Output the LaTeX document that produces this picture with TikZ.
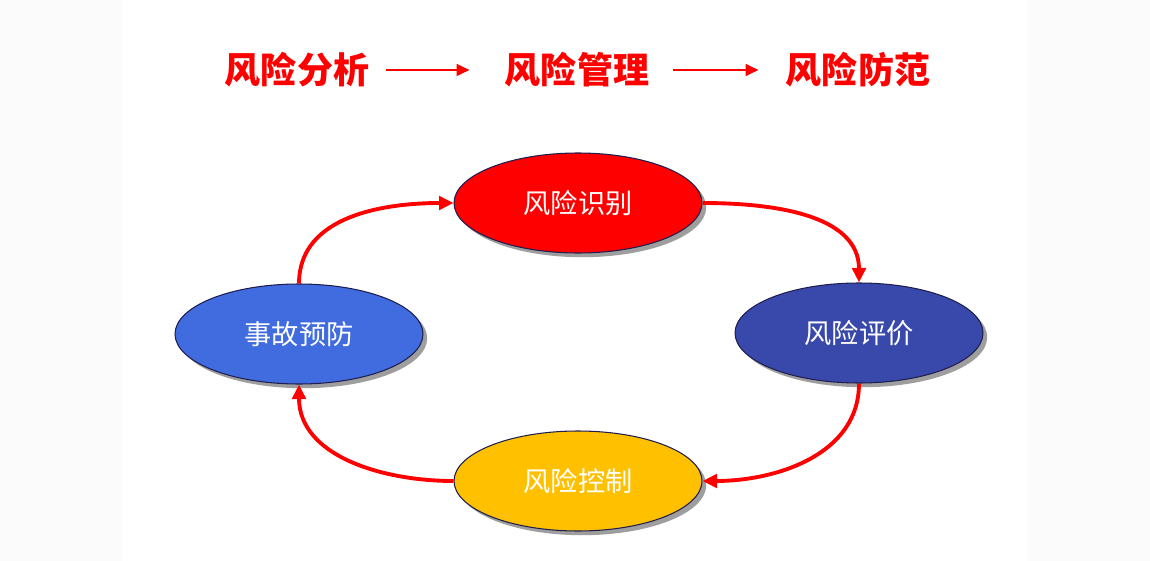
\documentclass[tikz,border=0pt]{standalone}
\usepackage{fontspec}
\newfontfamily\cjk{Noto Sans CJK SC}
\usetikzlibrary{arrows.meta,positioning,shapes.geometric,shadows}
\definecolor{riskred}{RGB}{255,0,0}
\definecolor{evalblue}{RGB}{57,73,171}
\definecolor{prevblue}{RGB}{65,108,224}
\definecolor{ctrlyellow}{RGB}{255,192,0}
\definecolor{rimnavy}{RGB}{30,30,80}
\definecolor{sidegray}{RGB}{251,251,251}

\begin{document}
\begin{tikzpicture}[
  x=0.02cm, y=-0.02cm,
  font=\cjk,
  phase/.style={ellipse, draw=rimnavy, line width=0.6pt, minimum width=4.96cm, minimum height=2.0cm,
    text=white, font=\cjk\fontsize{15.5pt}{18pt}\selectfont,
    drop shadow={shadow xshift=2.4pt, shadow yshift=-2.4pt, fill=black!38, opacity=1}},
  title/.style={inner sep=0pt, text=riskred, font=\cjk\bfseries\fontsize{20.5pt}{24pt}\selectfont},
  titlearr/.style={-{Triangle[length=2.6mm,width=2.3mm]}, line width=1.7pt, riskred},
  cyc/.style={-{Triangle[length=2.9mm,width=2.7mm]}, line width=2.2pt, riskred}
]
\useasboundingbox (0,0) rectangle (1150,561);
\fill[sidegray] (0,0) rectangle (1150,561);
\fill[white] (122,0) rectangle (1027,561);

\node[title] (ana) at (297,70) {风险分析};
\node[title] (man) at (577,70) {风险管理};
\node[title] (pro) at (858,70) {风险防范};
\draw[titlearr, shorten <=0.34cm, shorten >=0.7cm] (ana.east) -- (man.west);
\draw[titlearr, shorten <=0.48cm, shorten >=0.54cm] (man.east) -- (pro.west);

\node[phase, fill=riskred] (ident) at (578,203) {风险识别};
\node[phase, fill=evalblue] (eval) at (859,333) {风险评价};
\node[phase, fill=ctrlyellow] (ctrl) at (578,481) {风险控制};
\node[phase, fill=prevblue] (prev) at (299,334) {事故预防};

\draw[cyc] (ident.east) to[out=0, in=90] (eval.north);
\draw[cyc] (eval.south) to[out=-90, in=0] (ctrl.east);
\draw[cyc] (ctrl.west) to[out=180, in=-90] (prev.south);
\draw[cyc] (prev.north) to[out=90, in=180] (ident.west);
\end{tikzpicture}
\end{document}
